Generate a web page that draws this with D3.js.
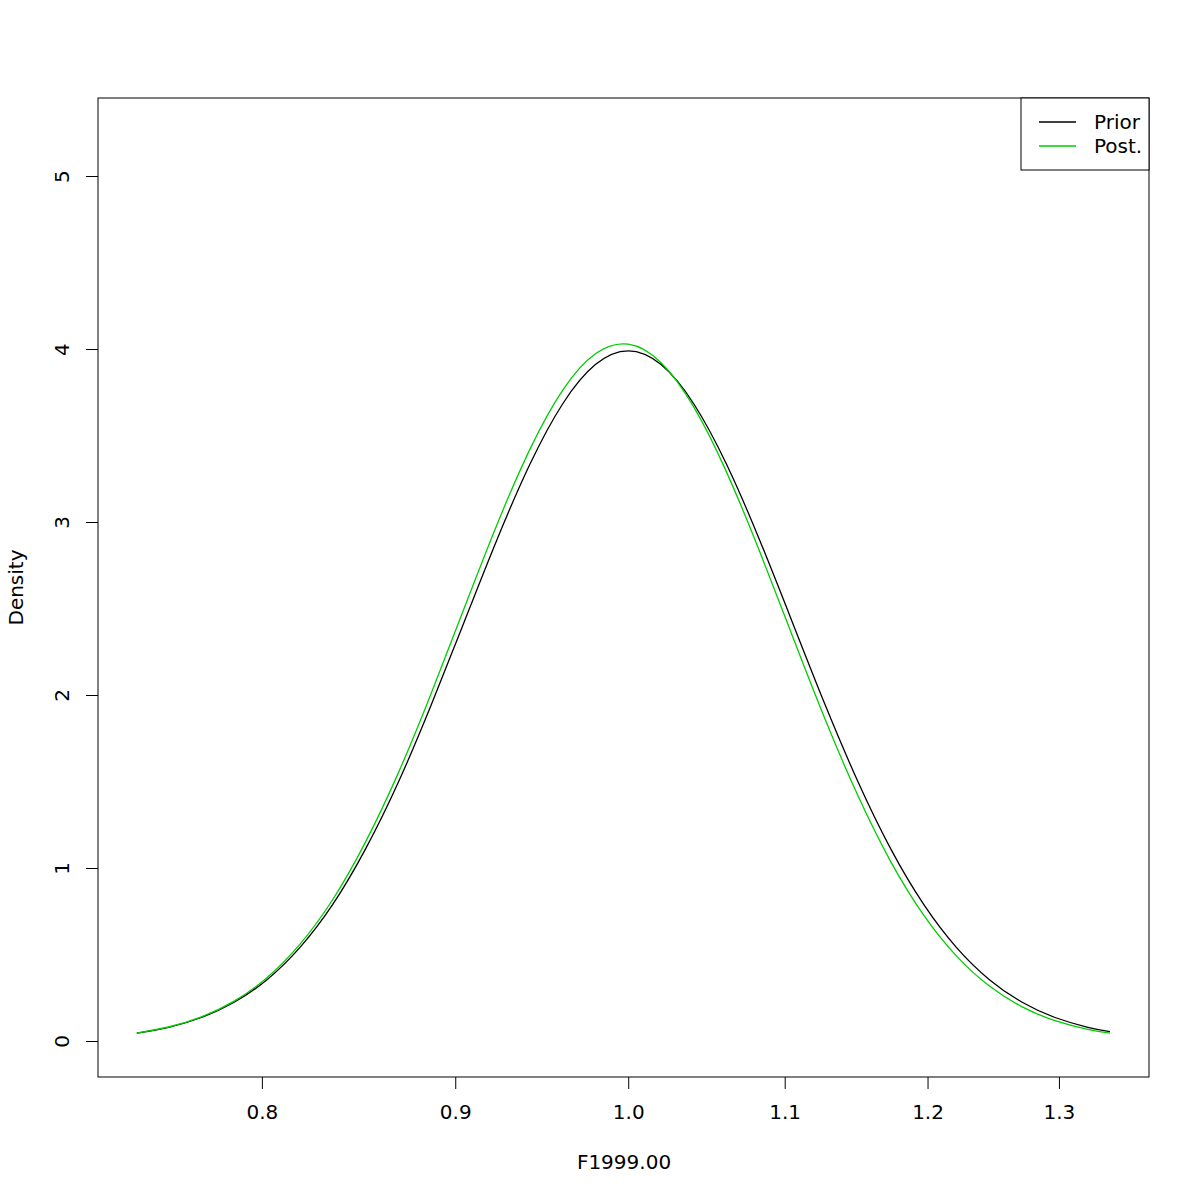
<!DOCTYPE html>
<html>
<head>
<meta charset="utf-8">
<script src="https://cdn.jsdelivr.net/npm/d3@7"></script>
<style>
  html, body { margin: 0; padding: 0; background: #fff; }
  text { font-family: "DejaVu Sans", sans-serif; }
</style>
</head>
<body>
<svg id="chart" width="1200" height="1200"></svg>
<script>
// Data
const xValues = [0.7413, 0.7558, 0.7711, 0.7866, 0.8025, 0.8187, 0.8353, 0.8521, 0.8694, 0.8869,
  0.9048, 0.9231, 0.9418, 0.9608, 0.9802, 1.0000, 1.0202, 1.0408, 1.0618, 1.0833,
  1.1052, 1.1275, 1.1503, 1.1735, 1.1972, 1.2214, 1.2461, 1.2712, 1.2969, 1.3231, 1.3410];
const priorValues = [0.0452, 0.0792, 0.1358, 0.2239, 0.3547, 0.5399, 0.7894, 1.1091, 1.4971, 1.9417,
  2.4195, 2.8966, 3.3319, 3.6823, 3.9100, 3.9894, 3.9100, 3.6823, 3.3319, 2.8966,
  2.4195, 1.9417, 1.4971, 1.1091, 0.7894, 0.5399, 0.3547, 0.2239, 0.1358, 0.0792, 0.0539];
const postValues = [0.0460, 0.0809, 0.1394, 0.2306, 0.3663, 0.5588, 0.8180, 1.1496, 1.5513, 2.0093,
  2.4986, 2.9829, 3.4184, 3.7610, 3.9724, 4.0279, 3.9208, 3.6640, 3.2870, 2.8310,
  2.3409, 1.8580, 1.4157, 1.0356, 0.7273, 0.4903, 0.3174, 0.1972, 0.1176, 0.0673, 0.0453];
const xTicks = [0.8, 0.9, 1.0, 1.1, 1.2, 1.3];
const xTickLabels = ["0.8", "0.9", "1.0", "1.1", "1.2", "1.3"];
const yTicks = [0, 1, 2, 3, 4, 5];
const seriesNames = ["Prior", "Post."];
const seriesColors = ["#000000", "#00cd00"];
const xTitle = "F1999.00";
const yTitle = "Density";

(function () {
const svg = d3.select("#chart");
const pLeft = 98, pRight = 1149, pTop = 98, pBottom = 1077;
const fs = 20;

const x = d3.scaleLog().domain([0.7240, 1.3733]).range([pLeft, pRight]);
const y = d3.scaleLinear().domain([-0.2081, 5.4510]).range([pBottom, pTop]);

// plot box
svg.append("rect").attr("x", pLeft).attr("y", pTop)
  .attr("width", pRight - pLeft).attr("height", pBottom - pTop)
  .attr("fill", "none").attr("stroke", "#000").attr("stroke-width", 1);

// x axis
const xAxis = d3.axisBottom(x).tickValues(xTicks)
  .tickFormat((d, i) => xTickLabels[i]).tickSizeInner(12).tickSizeOuter(0).tickPadding(16);
const gx = svg.append("g").attr("transform", `translate(0,${pBottom})`).call(xAxis);
gx.select(".domain").remove();
gx.selectAll("text").attr("font-size", fs).attr("font-family", "DejaVu Sans, sans-serif").attr("fill", "#000");
gx.selectAll("line").attr("stroke", "#000");

// y axis
const yAxis = d3.axisLeft(y).tickValues(yTicks).tickFormat(d3.format("d"))
  .tickSizeInner(12).tickSizeOuter(0).tickPadding(0);
const gy = svg.append("g").attr("transform", `translate(${pLeft},0)`).call(yAxis);
gy.select(".domain").remove();
gy.selectAll("line").attr("stroke", "#000");
gy.selectAll("text").remove();
gy.selectAll(".tick").append("text")
  .attr("transform", "translate(-36,0) rotate(-90)")
  .attr("text-anchor", "middle").attr("dy", "0.35em")
  .attr("font-size", fs).attr("font-family", "DejaVu Sans, sans-serif").attr("fill", "#000")
  .text(d => d3.format("d")(d));

// titles
svg.append("text").attr("x", 624).attr("y", 1169)
  .attr("text-anchor", "middle").attr("font-size", fs).text(xTitle);
svg.append("text").attr("transform", `translate(23,${(pTop + pBottom) / 2}) rotate(-90)`)
  .attr("text-anchor", "middle").attr("font-size", fs).text(yTitle);

// lines
const line = d3.line().x(d => x(d[0])).y(d => y(d[1])).curve(d3.curveNatural);
[priorValues, postValues].forEach((vals, i) => {
  svg.append("path")
    .datum(xValues.map((xv, j) => [xv, vals[j]]))
    .attr("d", line).attr("fill", "none")
    .attr("stroke", seriesColors[i]).attr("stroke-width", 1.3);
});

// legend
const lg = svg.append("g");
lg.append("rect").attr("x", 1021).attr("y", pTop).attr("width", pRight - 1021).attr("height", 72)
  .attr("fill", "#fff").attr("stroke", "#000");
seriesNames.forEach((name, i) => {
  const ly = 122 + i * 24;
  lg.append("line").attr("x1", 1039).attr("x2", 1076).attr("y1", ly).attr("y2", ly)
    .attr("stroke", seriesColors[i]).attr("stroke-width", 1.3);
  lg.append("text").attr("x", 1094).attr("y", ly).attr("dy", "0.35em")
    .attr("font-size", fs).text(name);
});
})();
</script>
</body>
</html>
